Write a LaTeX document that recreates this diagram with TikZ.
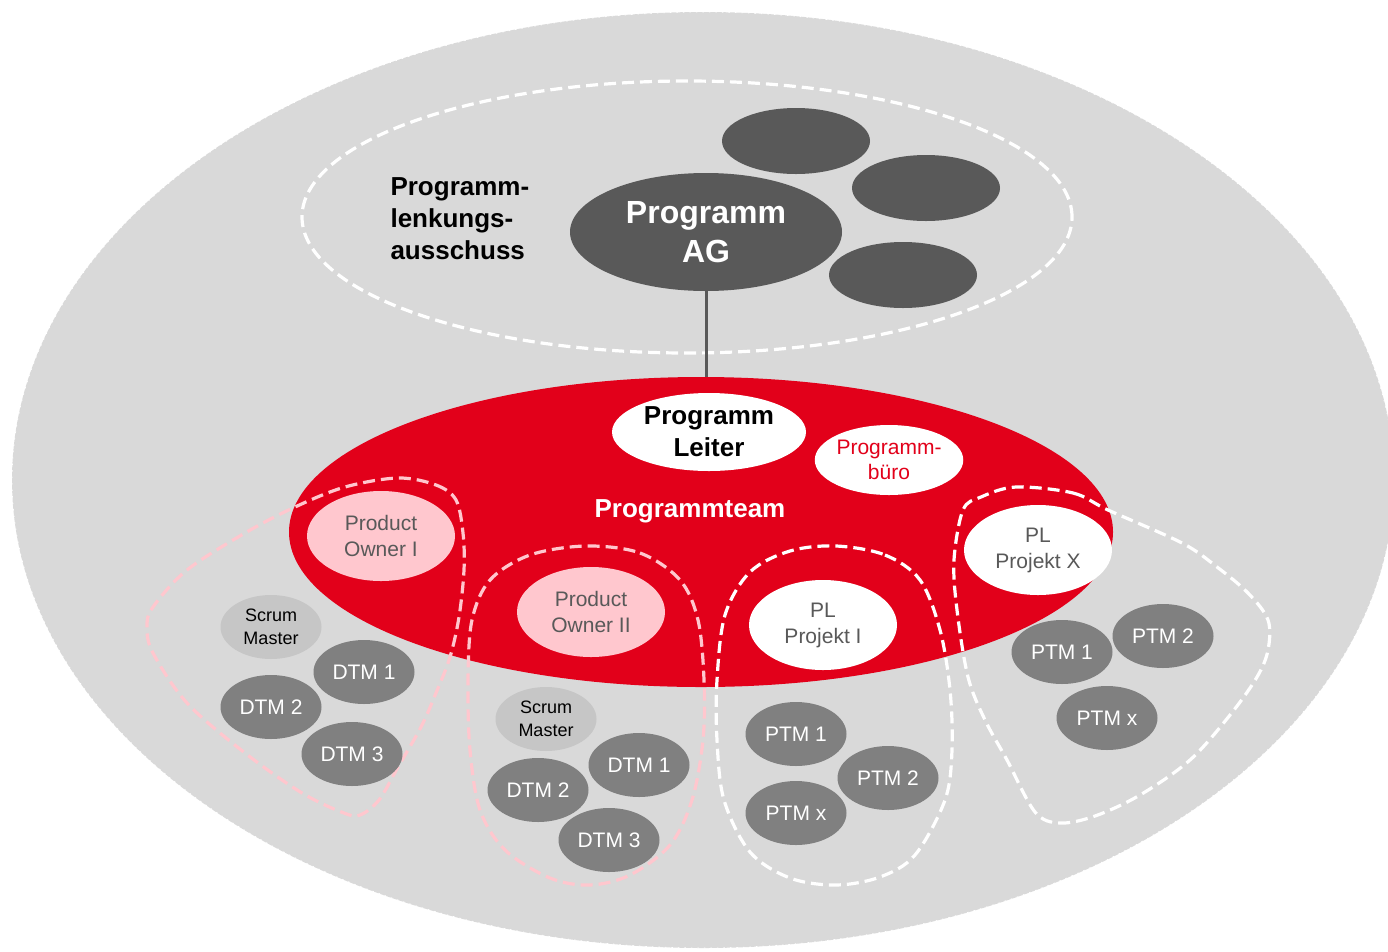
\documentclass[tikz,border=0pt]{standalone}
\usepackage{fontspec}
\setmainfont{Liberation Sans}
\usetikzlibrary{shapes.geometric}
\definecolor{bg}{HTML}{D9D9D9}
\definecolor{agray}{HTML}{595959}
\definecolor{dgray}{HTML}{808080}
\definecolor{sgray}{HTML}{C6C6C6}
\definecolor{tred}{HTML}{E2001A}
\definecolor{tpink}{HTML}{FFC7CE}
\definecolor{tgray}{HTML}{595959}
\newcommand\fsz[2]{\fontsize{#1}{#2}\selectfont}
\tikzset{
  role/.style={ellipse, inner sep=0pt, align=center},
  darkel/.style={role, fill=agray, minimum width=148pt, minimum height=66pt},
  dtm/.style={role, fill=dgray, minimum width=101pt, minimum height=64pt, text=white, font=\fsz{21}{25}},
  scrum/.style={role, fill=sgray, minimum width=101pt, minimum height=64pt, text=black, font=\fsz{18}{23}},
  po/.style={role, fill=tpink, minimum width=148pt, minimum height=90pt, text=tgray, font=\fsz{21}{26}},
  pl/.style={role, fill=white, minimum width=148pt, minimum height=90pt, text=tgray, font=\fsz{21}{26}},
  pinkloop/.style={draw=tpink, line width=3.2pt, dash pattern=on 12pt off 6pt},
  whiteloop/.style={draw=white, line width=3.2pt, dash pattern=on 12pt off 6pt},
}
\begin{document}
\begin{tikzpicture}[x=1pt,y=-1pt]
\useasboundingbox (0,0) rectangle (1388,951);
\clip (0,0) rectangle (1388,951);
% outer grey ellipse
\fill[bg] (703,480) ellipse [x radius=691, y radius=468];
\draw[white, line width=0.8pt, dash pattern=on 1.5pt off 5pt] (703,480) ellipse [x radius=691, y radius=468];

% Lenkungsausschuss
\node[ellipse, whiteloop, minimum width=770pt, minimum height=272pt, inner sep=0pt] (lenk) at (687,217) {};
\node[anchor=west, align=left, font=\bfseries\fsz{26}{32}] (lenklabel) at (387,219) {Programm-\\lenkungs-\\ausschuss};
\node[darkel] (m1) at (796,141) {};
\node[darkel] (m2) at (926,188) {};
\node[darkel] (m3) at (903,275) {};
\node[role, fill=agray, minimum width=272pt, minimum height=118pt, text=white, font=\bfseries\fsz{32}{39}] (ag) at (706,232) {Programm\\AG};

% red team ellipse
\node[role, fill=tred, minimum width=824pt, minimum height=310pt] (team) at (701,532) {};
\draw[agray, line width=3pt] (ag.south) -- (ag.south |- team.north);
\node[text=white, font=\bfseries\fsz{26}{30}] (teamlabel) at (690,511) {Programmteam};

% dashed group loops
\draw[pinkloop] plot[smooth cycle, tension=0.55] coordinates {
 (398,478) (436,485) (456,500) (463,533) (464,570) (459,617) (450,657) (436,693) (421,727) (398,767) (379,800) (360,815)
 (344,813) (302,793) (245,753) (187,703) (153,653) (147,627) (153,607) (187,570) (245,533) (295,507) (345,487)};
\draw[pinkloop] plot[smooth cycle, tension=0.55] coordinates {
 (586,546) (640,553) (680,580) (698,620) (704,680) (703,740) (692,800) (670,845) (630,875) (590,885)
 (550,878) (505,850) (480,810) (470,750) (468,680) (472,620) (490,580) (530,555)};
\draw[whiteloop] plot[smooth cycle, tension=0.55] coordinates {
 (836,546) (885,555) (920,580) (940,630) (950,690) (952,750) (945,800) (915,855) (880,877) (836,885)
 (790,878) (750,852) (724,800) (717,740) (717,680) (725,615) (750,572) (790,551)};
\draw[whiteloop] plot[smooth cycle, tension=0.55] coordinates {
 (1016,487) (1073,493) (1108,510) (1182,543) (1217,567) (1248,593) (1268,620) (1268,650) (1257,677) (1230,715) (1190,760)
 (1140,795) (1095,816) (1060,823) (1035,812) (1007,760) (985,720) (968,677) (957,610) (954,560) (963,510) (981,497)};

% team members
\node[role, fill=white, minimum width=194pt, minimum height=78pt, text=black, font=\bfseries\fsz{26}{32}] (pgl) at (709,432) {Programm\\Leiter};
\node[role, fill=white, minimum width=146pt, minimum height=70pt, text=tred, font=\fsz{21}{25}] (pbuero) at (889,460) {Programm-\\büro};
\node[po] (po1) at (381,536) {Product\\Owner I};
\node[po] (po2) at (591,612) {Product\\Owner II};
\node[pl] (pl1) at (823,625) {PL\\Projekt I};
\node[pl] (plx) at (1038,550) {PL\\Projekt X};

% scrum team I
\node[scrum] (sm1) at (271,627) {Scrum\\Master};
\node[dtm] (d11) at (364,672) {DTM 1};
\node[dtm] (d12) at (271,707) {DTM 2};
\node[dtm] (d13) at (352,754) {DTM 3};
% scrum team II
\node[scrum] (sm2) at (546,719) {Scrum\\Master};
\node[dtm] (d21) at (639,765) {DTM 1};
\node[dtm] (d22) at (538,790) {DTM 2};
\node[dtm] (d23) at (609,840) {DTM 3};
% project I
\node[dtm] (p11) at (796,734) {PTM 1};
\node[dtm] (p12) at (888,778) {PTM 2};
\node[dtm] (p1x) at (796,813) {PTM x};
% project X
\node[dtm] (px1) at (1062,652) {PTM 1};
\node[dtm] (px2) at (1163,636) {PTM 2};
\node[dtm] (pxx) at (1107,718) {PTM x};
\end{tikzpicture}
\end{document}
